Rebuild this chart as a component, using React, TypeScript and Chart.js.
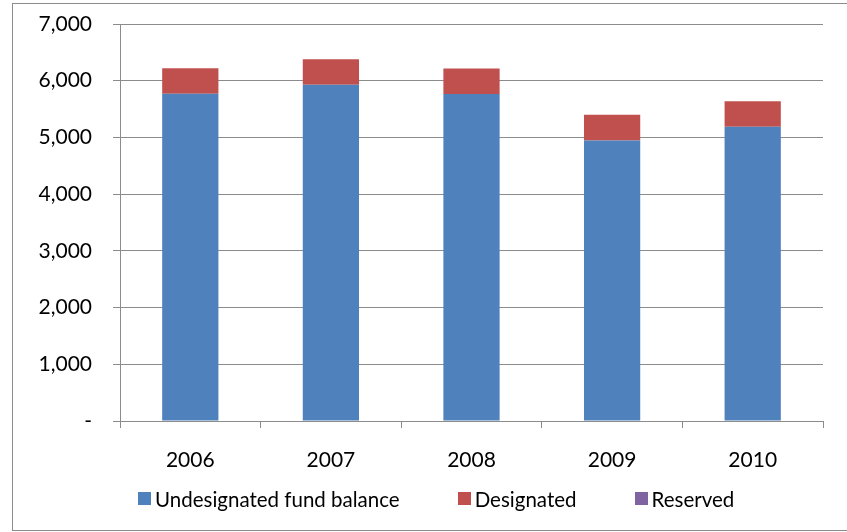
import React, { useEffect, useRef } from "react";
import { Chart, registerables } from "chart.js";

Chart.register(...registerables);

const years = ["2006", "2007", "2008", "2009", "2010"];
const undesignated = [5770, 5930, 5765, 4945, 5190];
const designated = [450, 448, 450, 455, 447];
const reserved = [0, 0, 0, 0, 0];
const seriesLabels = ["Undesignated fund balance", "Designated", "Reserved"];
const seriesColors = ["#4F81BD", "#C0504D", "#8064A2"];
const yTickValues = [0, 1000, 2000, 3000, 4000, 5000, 6000, 7000];

const FONT = "Lato, 'Open Sans', sans-serif";
const GRID = "#8c8c8c";

const borderPlugin = {
  id: "outerBorder",
  beforeDraw(chart: any) {
    const ctx = chart.ctx;
    ctx.save();
    ctx.strokeStyle = GRID;
    ctx.lineWidth = 1;
    ctx.strokeRect(12.5, 3.5, 900, 527);
    ctx.restore();
  },
};

export default function App() {
  const ref = useRef<HTMLCanvasElement | null>(null);

  useEffect(() => {
    document.body.style.margin = "0";
    const canvas = ref.current;
    if (!canvas) return;
    const allSeries = [undesignated, designated, reserved];
    const chart = new Chart(canvas, {
      type: "bar",
      data: {
        labels: years,
        datasets: allSeries.map((d, i) => ({
          label: seriesLabels[i],
          data: d,
          backgroundColor: seriesColors[i],
          borderWidth: 0,
          categoryPercentage: 1,
          barPercentage: 0.4,
        })),
      },
      options: {
        responsive: false,
        animation: false,
        layout: { padding: { left: 0, right: 24, top: 24, bottom: 0 } },
        plugins: {
          legend: { display: false },
          tooltip: { enabled: false },
          title: { display: false },
        },
        scales: {
          x: {
            stacked: true,
            offset: true,
            grid: {
              offset: true,
              drawOnChartArea: false,
              drawTicks: true,
              tickLength: 7,
              color: GRID,
            },
            border: { display: true, color: GRID },
            ticks: {
              color: "#000",
              padding: 20,
              maxRotation: 0,
              font: { family: FONT, size: 21 },
            },
            afterFit: (s: any) => {
              s.height = 111;
            },
          },
          y: {
            stacked: true,
            min: 0,
            max: 7000,
            afterBuildTicks: (s: any) => {
              s.ticks = yTickValues.map((v) => ({ value: v }));
            },
            grid: {
              color: GRID,
              tickLength: 7,
              drawTicks: true,
            },
            border: { display: true, color: GRID },
            ticks: {
              color: "#000",
              padding: 21,
              font: { family: FONT, size: 21 },
              callback: (v: any) =>
                Number(v) === 0 ? "-" : Number(v).toLocaleString("en-US"),
            },
            afterFit: (s: any) => {
              s.width = 120;
              s.paddingTop = 0;
              s.paddingBottom = 0;
            },
          },
        },
      },
      plugins: [borderPlugin],
    });
    return () => chart.destroy();
  }, []);

  return (
    <div style={{ position: "relative", width: 847, height: 532 }}>
      <canvas ref={ref} width={847} height={532} style={{ display: "block" }} />
      <div
        style={{
          position: "absolute",
          top: 486.5,
          left: 138,
          display: "flex",
          alignItems: "center",
          fontFamily: FONT,
          fontSize: 20.5,
          lineHeight: "24px",
          color: "#000",
          whiteSpace: "nowrap",
        }}
      >
        {seriesLabels.map((l, i) => (
          <div
            key={l}
            style={{ display: "flex", alignItems: "center", marginRight: 58 }}
          >
            <span
              style={{
                display: "inline-block",
                width: 13,
                height: 13,
                background: seriesColors[i],
                marginRight: 4,
              }}
            />
            <span>{l}</span>
          </div>
        ))}
      </div>
    </div>
  );
}
